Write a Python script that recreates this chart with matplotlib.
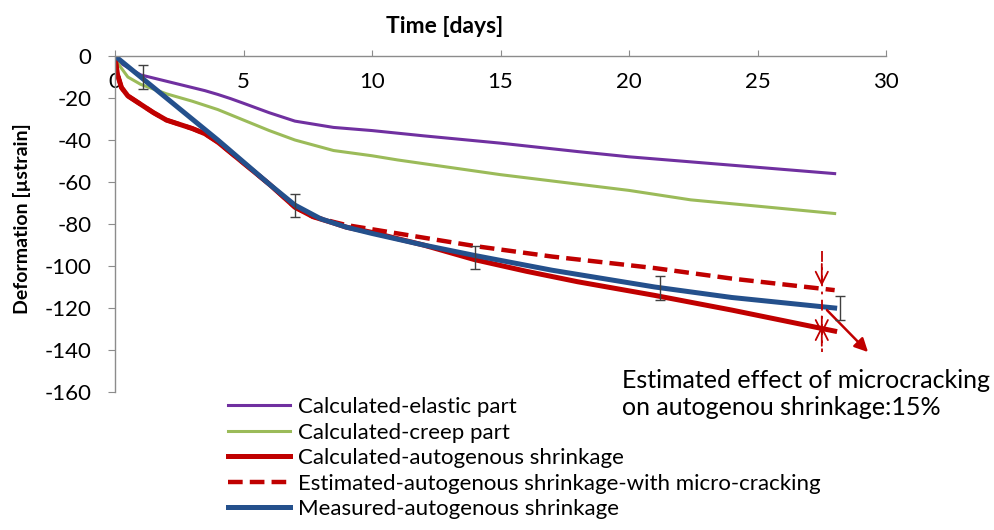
import matplotlib.pyplot as plt

plt.rcParams['font.family'] = ['Lato', 'DejaVu Sans']
plt.rcParams['axes.unicode_minus'] = False

# calculated elastic part
el_days = [0, 0.3, 1, 2, 3, 3.5, 4, 4.5, 5, 6, 7, 8.5, 10, 12, 15, 18, 20, 22, 25, 28]
el_def = [0, -4, -9, -12, -15, -16.5, -18.3, -20.3, -22.5, -27, -31, -34, -35.5, -38, -41.5, -45.5, -48, -50, -53, -56]

# calculated creep part
cr_days = [0, 0.2, 0.5, 1, 2, 3, 4, 5, 6, 7, 8.5, 10, 11, 13, 15, 18, 20, 22.4, 25, 28]
cr_def = [0, -5, -10, -13.5, -18, -21.5, -25.5, -30.5, -35.5, -40, -45, -47.5, -49.5, -53, -56.5, -61, -64, -68.5, -71.5, -75]

# calculated autogenous shrinkage
au_days = [0, 0.05, 0.1, 0.25, 0.5, 1, 1.5, 2, 3, 3.5, 4, 5, 6, 7, 7.7, 8.5, 9, 10, 11, 12, 14, 16, 18, 21, 24, 26, 28]
au_def = [0, -5, -9, -15, -19, -23, -27, -30.5, -34.5, -37, -41, -51, -61, -72, -76.5, -79.5, -81.5, -84, -87, -90, -97, -102.5, -107.5, -114, -121, -126, -131]

# estimated autogenous shrinkage with micro-cracking
es_days = [0, 0.05, 0.1, 0.25, 0.5, 1, 1.5, 2, 3, 3.5, 4, 5, 6, 7, 7.7, 8.5, 9, 10, 12, 14, 17, 21, 24, 28]
es_def = [0, -5, -9, -15, -19, -23, -27, -30.5, -34.5, -37, -41, -51, -61, -72, -76.5, -79, -80.5, -82.5, -86.5, -90.5, -95.5, -101, -106, -111.5]

# measured autogenous shrinkage
me_days = [0, 1, 2, 3, 4, 5, 6, 7, 8, 9, 10, 12, 14, 17, 21, 24, 28]
me_def = [0, -10, -20, -30, -40, -50.5, -61, -71, -77.5, -81.5, -84.5, -90, -95, -102, -110, -115, -120]

# measurement points with scatter
eb_days = [1.1, 7.0, 14.0, 21.2, 28.2]
eb_def = [-10, -71, -96, -110.5, -120]
eb_err = [5.5, 5.5, 5.5, 5.5, 5.5]

labels = ["Calculated-elastic part",
          "Calculated-creep part",
          "Calculated-autogenous shrinkage",
          "Estimated-autogenous shrinkage-with micro-cracking",
          "Measured-autogenous shrinkage"]

c_el = '#7030A0'
c_cr = '#9BBB59'
c_red = '#C00000'
c_blue = '#24508C'
c_axis = '#8C8C8C'

fig = plt.figure(figsize=(9.95, 5.30), dpi=100)
ax = fig.add_axes([0.1156, 0.2604, 0.7749, 0.6339])

l1, = ax.plot(el_days, el_def, color=c_el, lw=2.2)
l2, = ax.plot(cr_days, cr_def, color=c_cr, lw=2.2)
l4, = ax.plot(es_days, es_def, color=c_red, lw=3.2, ls=(0, (3.3, 1.6)))
l3, = ax.plot(au_days, au_def, color=c_red, lw=3.6)
l5, = ax.plot(me_days, me_def, color=c_blue, lw=3.6)
ax.errorbar(eb_days, eb_def, yerr=eb_err, fmt='none', ecolor='#404040',
            elinewidth=1.0, capsize=3.5, capthick=1.0, zorder=5)

# microcracking effect at 27.5 days
ax.plot([27.5, 27.5], [-93, -141], color=c_red, lw=1.3,
        ls=(0, (6, 3, 1.5, 3)))
arrow_kw = dict(arrowstyle='->', color=c_red, lw=1.3,
                mutation_scale=22, shrinkA=0, shrinkB=0)
ax.annotate('', xy=(27.5, -109.5), xytext=(27.5, -99), arrowprops=arrow_kw)
ax.annotate('', xy=(27.5, -128.5), xytext=(27.5, -138), arrowprops=arrow_kw)
ax.annotate('', xy=(27.5, -132.5), xytext=(27.5, -124), arrowprops=arrow_kw)
ax.annotate('', xy=(29.3, -141), xytext=(27.7, -121),
            arrowprops=dict(arrowstyle='-|>', color=c_red, lw=1.8,
                            mutation_scale=20, shrinkA=0, shrinkB=0),
            annotation_clip=False)

ax.set_xlim(0, 30)
ax.set_ylim(-160, 0)
ax.set_xticks(range(0, 31, 5))
ax.set_yticks(range(-160, 1, 20))

for s in ['bottom', 'right']:
    ax.spines[s].set_visible(False)
for s in ['top', 'left']:
    ax.spines[s].set_color(c_axis)
    ax.spines[s].set_linewidth(1.0)

ax.tick_params(axis='x', top=True, bottom=False, labeltop=True, labelbottom=False,
               direction='out', length=4, color=c_axis, pad=-30, labelsize=16)
ax.tick_params(axis='y', direction='out', length=5, color=c_axis, pad=12, labelsize=16)

ax.xaxis.set_label_position('top')
ax.set_xlabel('Time [days]', fontsize=16.5, fontweight='bold')
ax.xaxis.set_label_coords(0.427, 1.068)
ax.set_ylabel('Deformation [µstrain]', fontsize=14, fontweight='bold')
ax.yaxis.set_label_coords(-0.109, 0.515)

fig.legend([l1, l2, l3, l4, l5], labels, loc='upper left',
           bbox_to_anchor=(0.229, 0.251), frameon=False, fontsize=16,
           handlelength=2.8, handletextpad=0.36, labelspacing=0.25,
           borderpad=0, borderaxespad=0)

fig.text(0.625, 1 - 394 / 530,
         'Estimated effect of microcracking\non autogenou shrinkage:15%',
         fontsize=18, va='center', ha='left', linespacing=1.2)

plt.savefig('out.png', dpi=100)
